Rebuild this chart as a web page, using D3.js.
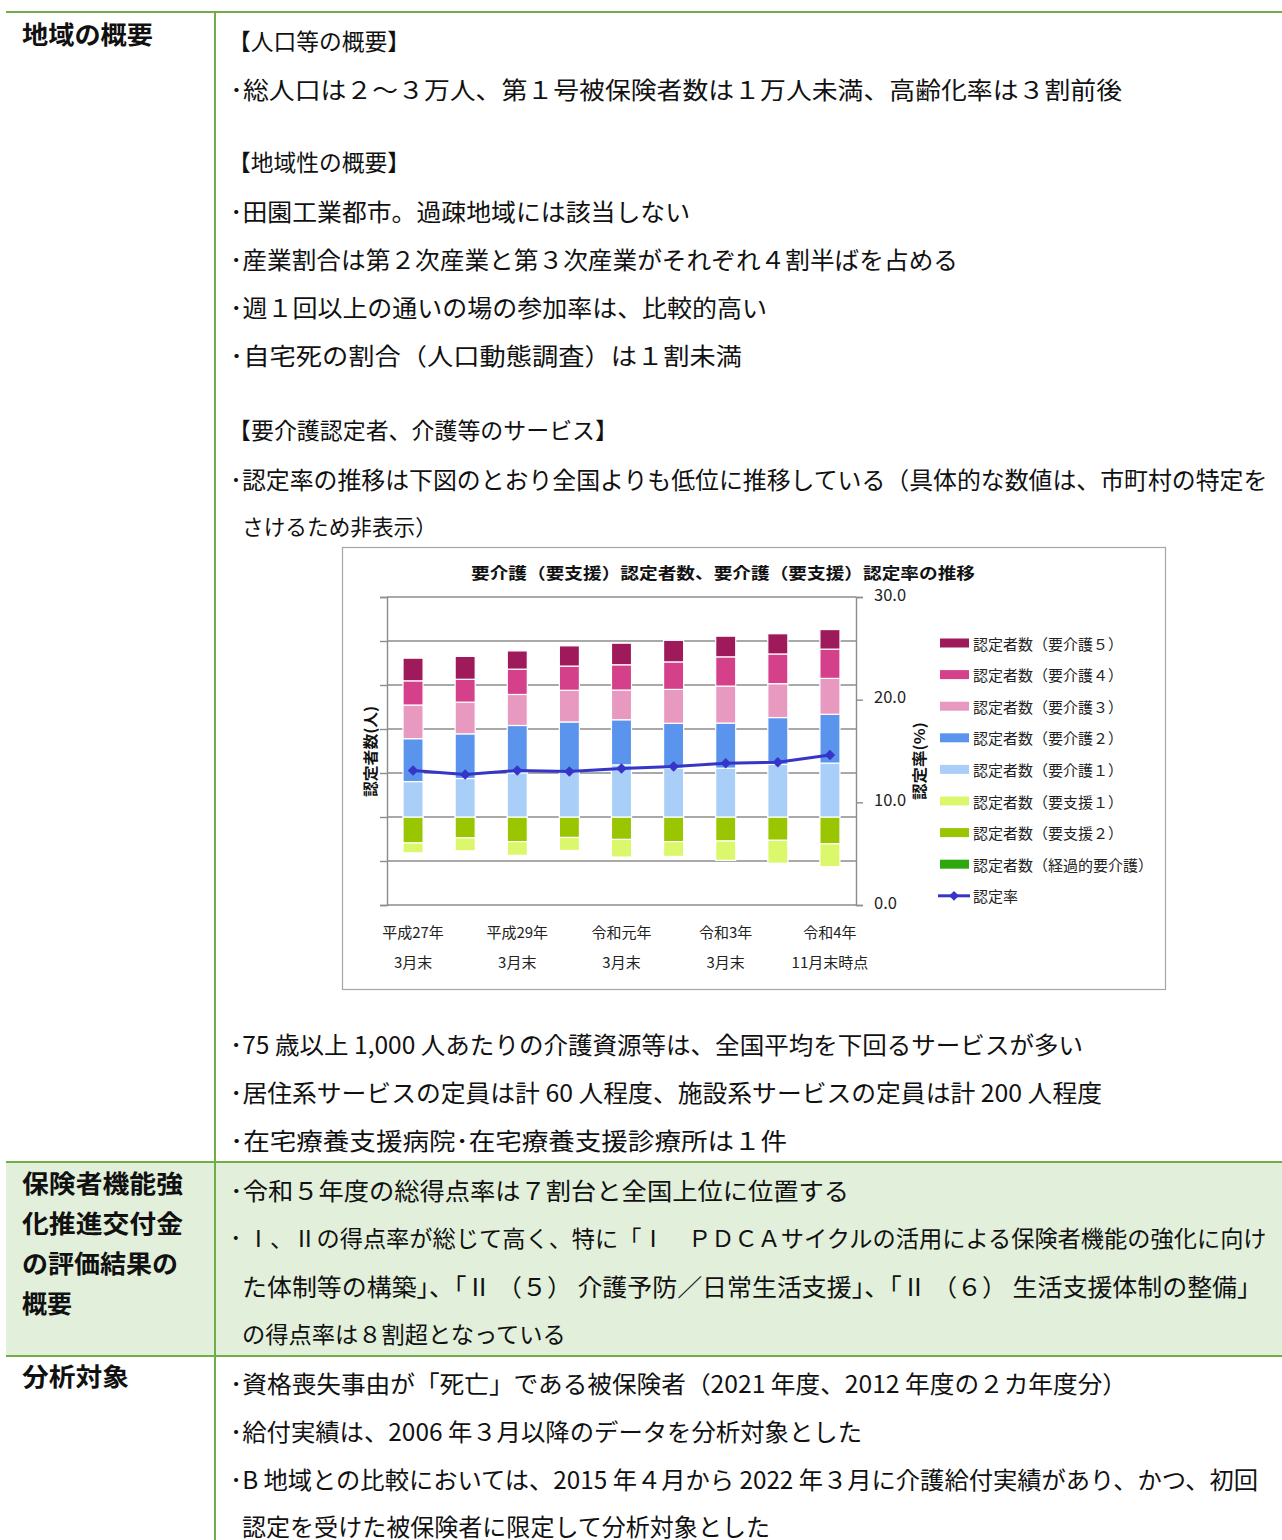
<!DOCTYPE html>
<html>
<head>
<meta charset="utf-8">
<script src="https://cdn.jsdelivr.net/npm/d3@7"></script>
<style>
  body { margin: 0; background: #fff; }
  svg text { font-family: "Noto Sans CJK JP", "Noto Sans", sans-serif; }
</style>
</head>
<body>
<script>
let w = 1282;
let h = 1540;

// chart data (left axis values are hidden in the original)
var categories = ["平成27年3月末", "平成28年3月末", "平成29年3月末", "平成30年3月末", "令和元年3月末",
                  "令和2年3月末", "令和3年3月末", "令和4年3月末", "令和4年11月末時点"];
var tickLabels = [["平成27年", "3月末"], null, ["平成29年", "3月末"], null, ["令和元年", "3月末"],
                  null, ["令和3年", "3月末"], null, ["令和4年", "11月末時点"]];
var kaigo5 = [103, 104, 83, 92, 98, 98, 94, 92, 89];
var kaigo4 = [110, 104, 115, 110, 115, 125, 133, 135, 133];
var kaigo3 = [153, 144, 141, 144, 135, 154, 168, 154, 163];
var kaigo2 = [195, 203, 215, 228, 205, 204, 205, 213, 222];
var kaigo1 = [161, 175, 201, 204, 237, 222, 222, 239, 245];
var shien1 = [45, 59, 62, 59, 80, 67, 88, 104, 104];
var shien2 = [118, 95, 112, 93, 102, 112, 109, 106, 122];
var keika = [0, 0, 0, 0, 0, 0, 0, 0, 0];
var rate = [13.1, 12.7, 13.1, 13.0, 13.3, 13.5, 13.8, 13.9, 14.6];
var leftTicks = [-400, -200, 0, 200, 400, 600, 800, 1000];
var rightTicks = [0, 10, 20, 30];

var series = [
    {key: "kaigo5", name: "認定者数（要介護５）", values: kaigo5, color: "#9e1a5a", sign: 1},
    {key: "kaigo4", name: "認定者数（要介護４）", values: kaigo4, color: "#d4418a", sign: 1},
    {key: "kaigo3", name: "認定者数（要介護３）", values: kaigo3, color: "#e899bf", sign: 1},
    {key: "kaigo2", name: "認定者数（要介護２）", values: kaigo2, color: "#5b94ec", sign: 1},
    {key: "kaigo1", name: "認定者数（要介護１）", values: kaigo1, color: "#a9cff8", sign: 1},
    {key: "shien1", name: "認定者数（要支援１）", values: shien1, color: "#dbf76b", sign: -1},
    {key: "shien2", name: "認定者数（要支援２）", values: shien2, color: "#99c600", sign: -1},
    {key: "keika", name: "認定者数（経過的要介護）", values: keika, color: "#2ea80e", sign: -1}
];
var lineColor = "#3535c8";

// document text
var headers = [
    {lines: ["地域の概要"], x: 22, y: 33, x2: 153},
    {lines: ["保険者機能強", "化推進交付金", "の評価結果の", "概要"], x: 22, y: 1182, x2: [183, 183, 178, null]},
    {lines: ["分析対象"], x: 22, y: 1375, x2: 129}
];
var bodyLines = [
    {t: "【人口等の概要】", x: 228, y: 40, x2: 410},
    {t: "･総人口は２～３万人、第１号被保険者数は１万人未満、高齢化率は３割前後", x: 230, y: 88, x2: 1122},
    {t: "【地域性の概要】", x: 228, y: 161, x2: 410},
    {t: "･田園工業都市。過疎地域には該当しない", x: 230, y: 210, x2: 690},
    {t: "･産業割合は第２次産業と第３次産業がそれぞれ４割半ばを占める", x: 230, y: 258, x2: 958},
    {t: "･週１回以上の通いの場の参加率は、比較的高い", x: 230, y: 306, x2: 767},
    {t: "･自宅死の割合（人口動態調査）は１割未満", x: 230, y: 354, x2: 742},
    {t: "【要介護認定者、介護等のサービス】", x: 228, y: 429, x2: 618},
    {t: "･認定率の推移は下図のとおり全国よりも低位に推移している（具体的な数値は、市町村の特定を", x: 230, y: 478, x2: 1268},
    {t: "さけるため非表示）", x: 242, y: 525, x2: 437},
    {t: "･75 歳以上 1,000 人あたりの介護資源等は、全国平均を下回るサービスが多い", x: 230, y: 1043, x2: 1083},
    {t: "･居住系サービスの定員は計 60 人程度、施設系サービスの定員は計 200 人程度", x: 230, y: 1091, x2: 1102},
    {t: "･在宅療養支援病院･在宅療養支援診療所は１件", x: 230, y: 1139, x2: 787},
    {t: "･令和５年度の総得点率は７割台と全国上位に位置する", x: 230, y: 1189, x2: 849},
    {t: "･ Ⅰ、Ⅱの得点率が総じて高く、特に「Ⅰ　ＰＤＣＡサイクルの活用による保険者機能の強化に向け", x: 230, y: 1237, x2: 1267},
    {t: "た体制等の構築」、「Ⅱ （５） 介護予防／日常生活支援」、「Ⅱ （６） 生活支援体制の整備」", x: 242, y: 1285, x2: 1262},
    {t: "の得点率は８割超となっている", x: 242, y: 1333, x2: 566},
    {t: "･資格喪失事由が「死亡」である被保険者（2021 年度、2012 年度の２カ年度分）", x: 230, y: 1382, x2: 1127},
    {t: "･給付実績は、2006 年３月以降のデータを分析対象とした", x: 230, y: 1430, x2: 862},
    {t: "･B 地域との比較においては、2015 年４月から 2022 年３月に介護給付実績があり、かつ、初回", x: 230, y: 1478, x2: 1258},
    {t: "認定を受けた被保険者に限定して分析対象とした", x: 242, y: 1525, x2: 770}
];

let svg = d3.select("body").append("svg").attr("width", w).attr("height", h);

// fit a text to its width: shrink when too long, spread when too short
function fitText(t, target, size) {
    let len = t.node().getComputedTextLength();
    if (len > target) {
        t.style("font-size", (size * target / len) + "px");
    } else {
        t.attr("textLength", target).attr("lengthAdjust", "spacingAndGlyphs");
    }
}

// table
let green = "#70ad47";
svg.append("rect").attr("x", 6).attr("y", 1162).attr("width", w - 6).attr("height", 194).attr("fill", "#e2efda");
[12, 1162, 1356].forEach(function(y) {
    svg.append("line").attr("x1", 6).attr("x2", w).attr("y1", y).attr("y2", y)
        .attr("stroke", green).attr("stroke-width", 2);
});
svg.append("line").attr("x1", 215).attr("x2", 215).attr("y1", 12).attr("y2", h)
    .attr("stroke", green).attr("stroke-width", 2);

headers.forEach(function(hd) {
    hd.lines.forEach(function(line, i) {
        let t = svg.append("text")
            .text(line)
            .attr("x", hd.x)
            .attr("y", hd.y + i * 40)
            .attr("dominant-baseline", "central")
            .style("font-size", "25px")
            .style("font-weight", "bold")
            .style("fill", "#111");
        let x2 = Array.isArray(hd.x2) ? hd.x2[i] : hd.x2;
        if (x2) fitText(t, x2 - hd.x, 25);
    });
});

bodyLines.forEach(function(d) {
    let t = svg.append("text")
        .attr("class", "body")
        .text(d.t)
        .attr("x", d.x)
        .attr("y", d.y)
        .attr("dominant-baseline", "central")
        .style("font-size", "24px")
        .style("fill", "#111");
    fitText(t, d.x2 - d.x, 24);
});

// chart
let chart = svg.append("g");
chart.append("rect")
    .attr("x", 342.5).attr("y", 547.5).attr("width", 823).attr("height", 442)
    .attr("fill", "#fff").attr("stroke", "#a6a6a6").attr("stroke-width", 1.2);

let title = chart.append("text")
    .text("要介護（要支援）認定者数、要介護（要支援）認定率の推移")
    .attr("x", 471)
    .attr("y", 572)
    .attr("dominant-baseline", "central")
    .style("font-size", "16px")
    .style("font-weight", "bold")
    .style("fill", "#111");
fitText(title, 504, 16);

let plotLeft = 387, plotRight = 856, plotTop = 597, plotBottom = 905;

let xScale = d3.scaleBand()
    .domain(categories)
    .range([plotLeft, plotRight])
    .paddingInner(0.615)
    .paddingOuter(0.3075);

let yScale = d3.scaleLinear().domain([-400, 1000]).range([plotBottom, plotTop]);
let y2Scale = d3.scaleLinear().domain([0, 30]).range([plotBottom, plotTop]);

// gridlines
chart.selectAll("line.grid")
    .data(leftTicks)
    .enter()
    .append("line")
    .attr("class", "grid")
    .attr("x1", plotLeft).attr("x2", plotRight)
    .attr("y1", function(d) { return yScale(d); })
    .attr("y2", function(d) { return yScale(d); })
    .attr("stroke", "#8c8c8c")
    .attr("stroke-width", 1.4);

// left axis without labels
let leftAxis = chart.append("g")
    .attr("transform", "translate(" + plotLeft + ",0)")
    .call(d3.axisLeft(yScale).tickValues(leftTicks).tickSize(7).tickFormat(""));
leftAxis.selectAll("path, line").attr("stroke", "#8c8c8c").attr("stroke-width", 1.4);

// right axis
let rightAxis = chart.append("g")
    .attr("transform", "translate(" + plotRight + ",0)")
    .call(d3.axisRight(y2Scale).tickValues(rightTicks).tickSize(7).tickPadding(11)
        .tickFormat(d3.format(".1f")));
rightAxis.selectAll("path, line").attr("stroke", "#8c8c8c").attr("stroke-width", 1.4);
rightAxis.selectAll("text")
    .attr("dy", "0.2em")
    .style("font-family", "\"Noto Sans CJK JP\", sans-serif")
    .style("font-size", "16.5px")
    .style("fill", "#222");

// stacked bars, 要支援 below the baseline
let rows = categories.map(function(c, i) {
    let r = {cat: c};
    series.forEach(function(s) { r[s.key] = s.sign * s.values[i]; });
    return r;
});
let stackKeys = ["shien2", "shien1", "keika", "kaigo1", "kaigo2", "kaigo3", "kaigo4", "kaigo5"];
let stacked = d3.stack().keys(stackKeys).offset(d3.stackOffsetDiverging)(rows);
let colorOf = {};
series.forEach(function(s) { colorOf[s.key] = s.color; });

chart.append("g")
    .selectAll("g")
    .data(stacked)
    .enter()
    .append("g")
    .attr("fill", function(d) { return colorOf[d.key]; })
    .selectAll("rect")
    .data(function(d) { return d; })
    .enter()
    .append("rect")
    .attr("x", function(d) { return xScale(d.data.cat); })
    .attr("width", xScale.bandwidth())
    .attr("y", function(d) { return yScale(Math.max(d[0], d[1])); })
    .attr("height", function(d) { return Math.abs(yScale(d[0]) - yScale(d[1])); })
    .attr("stroke", "#fff")
    .attr("stroke-width", function(d) { return d[0] === d[1] ? 0 : 1.2; });

// rate line
let cx = function(d, i) { return xScale(categories[i]) + xScale.bandwidth() / 2; };
let line = d3.line()
    .x(function(d, i) { return cx(d, i); })
    .y(function(d) { return y2Scale(d); });
chart.append("path")
    .datum(rate)
    .attr("d", line)
    .attr("fill", "none")
    .attr("stroke", lineColor)
    .attr("stroke-width", 3);
chart.selectAll("path.marker")
    .data(rate)
    .enter()
    .append("path")
    .attr("class", "marker")
    .attr("d", d3.symbol().type(d3.symbolDiamond2).size(70))
    .attr("transform", function(d, i) { return "translate(" + cx(d, i) + "," + y2Scale(d) + ")"; })
    .attr("fill", lineColor);

// x labels, every other category
categories.forEach(function(c, i) {
    if (!tickLabels[i]) return;
    tickLabels[i].forEach(function(t, j) {
        chart.append("text")
            .text(t)
            .attr("x", xScale(c) + xScale.bandwidth() / 2)
            .attr("y", 931 + j * 30)
            .attr("text-anchor", "middle")
            .attr("dominant-baseline", "central")
            .style("font-size", "15px")
            .style("fill", "#222");
    });
});

// axis titles
let yTitle1 = chart.append("text")
    .text("認定者数(人)")
    .attr("transform", "translate(369,797) rotate(-90)")
    .attr("dominant-baseline", "central")
    .style("font-size", "15px")
    .style("font-weight", "bold")
    .style("fill", "#111");
fitText(yTitle1, 91, 15);
let yTitle2 = chart.append("text")
    .text("認定率(%)")
    .attr("transform", "translate(918,800) rotate(-90)")
    .attr("dominant-baseline", "central")
    .style("font-size", "15px")
    .style("font-weight", "bold")
    .style("fill", "#111");
fitText(yTitle2, 78, 15);

// legend
let legendX = 940, legendY = 643, legendStep = 31.6;
let legend = chart.append("g");
series.forEach(function(s, i) {
    let y = legendY + i * legendStep;
    legend.append("rect")
        .attr("x", legendX).attr("y", y - 4.5).attr("width", 29).attr("height", 9)
        .attr("fill", s.color);
    legend.append("text")
        .text(s.name)
        .attr("x", legendX + 33)
        .attr("y", y)
        .attr("dominant-baseline", "central")
        .style("font-size", "15px")
        .style("fill", "#222");
});
let ly = legendY + series.length * legendStep;
legend.append("line")
    .attr("x1", legendX - 2).attr("x2", legendX + 30).attr("y1", ly).attr("y2", ly)
    .attr("stroke", lineColor).attr("stroke-width", 3);
legend.append("path")
    .attr("d", d3.symbol().type(d3.symbolDiamond2).size(60))
    .attr("transform", "translate(" + (legendX + 14) + "," + ly + ")")
    .attr("fill", lineColor);
legend.append("text")
    .text("認定率")
    .attr("x", legendX + 33)
    .attr("y", ly)
    .attr("dominant-baseline", "central")
    .style("font-size", "15px")
    .style("fill", "#222");
</script>
</body>
</html>
